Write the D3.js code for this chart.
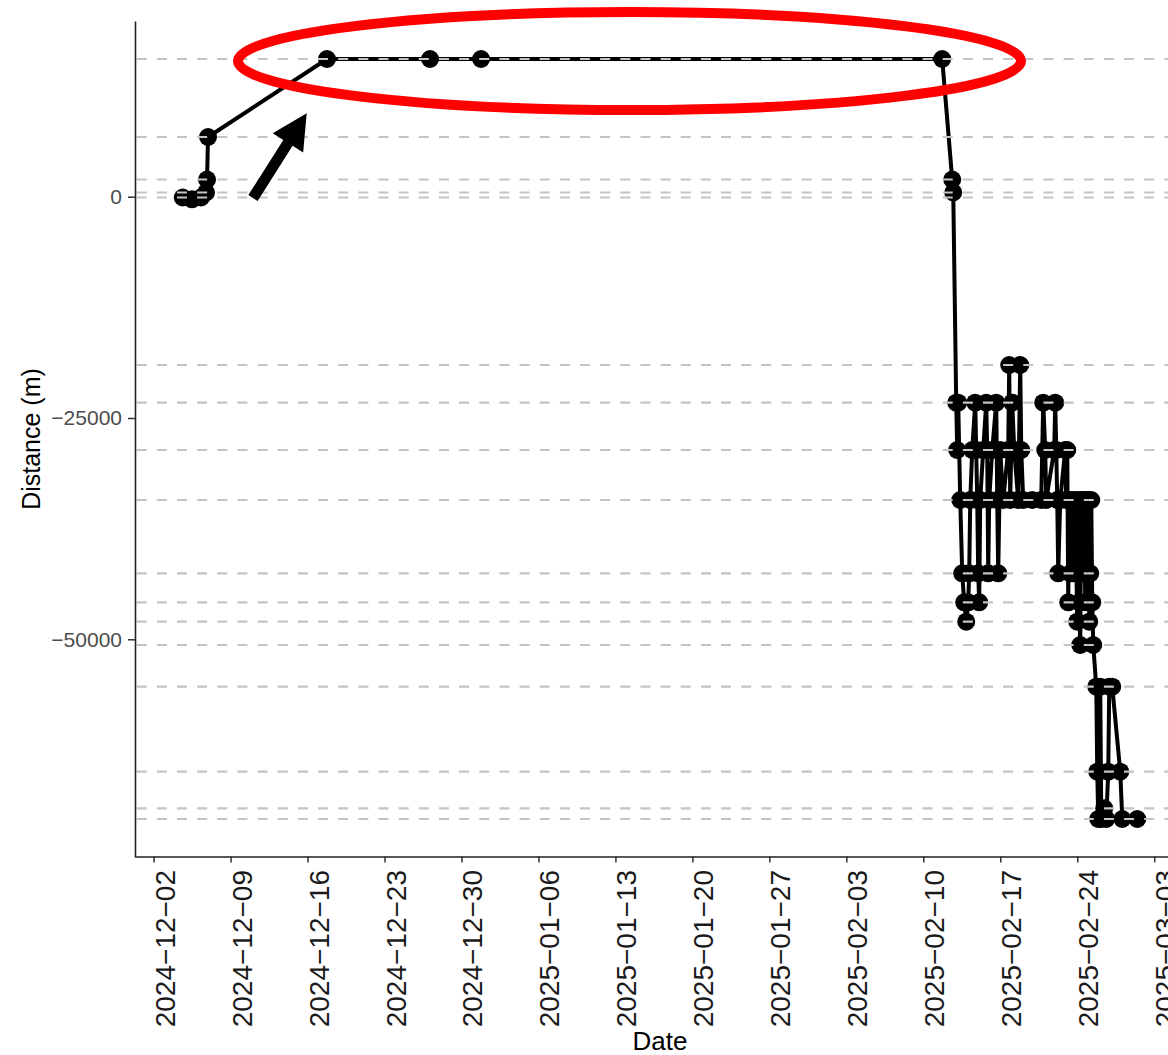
<!DOCTYPE html>
<html>
<head>
<meta charset="utf-8">
<script src="https://cdn.jsdelivr.net/npm/d3@7"></script>
<style>
  html, body { margin: 0; padding: 0; background: #ffffff; }
  svg { display: block; font-family: "Liberation Sans", Arial, Helvetica, sans-serif; }
</style>
</head>
<body>
<svg id="chart" width="1168" height="1055"></svg>
<script>
// ---------------- data ----------------
const timestamps = [
  "2024-12-04T15:36", "2024-12-05T11:45", "2024-12-06T07:30", "2024-12-06T18:30",
  "2024-12-06T20:40", "2024-12-06T22:50", "2024-12-17T18:30", "2024-12-27T03:20",
  "2024-12-31T18:45", "2025-02-11T17:15", "2025-02-12T15:05", "2025-02-12T17:20",
  "2025-02-12T23:50", "2025-02-13T02:00", "2025-02-13T04:10", "2025-02-13T08:35",
  "2025-02-13T12:55", "2025-02-13T17:15", "2025-02-13T21:40", "2025-02-14T02:00",
  "2025-02-14T04:10", "2025-02-14T06:25", "2025-02-14T10:45", "2025-02-14T17:20",
  "2025-02-14T19:30", "2025-02-14T21:40", "2025-02-14T23:50", "2025-02-15T02:00",
  "2025-02-15T04:10", "2025-02-15T10:45", "2025-02-15T17:20", "2025-02-15T19:30",
  "2025-02-15T21:40", "2025-02-15T23:50", "2025-02-16T06:25", "2025-02-16T15:10",
  "2025-02-16T17:20", "2025-02-16T19:30", "2025-02-16T23:50", "2025-02-17T06:25",
  "2025-02-17T17:20", "2025-02-17T19:30", "2025-02-17T21:40", "2025-02-18T02:05",
  "2025-02-18T06:25", "2025-02-18T15:10", "2025-02-18T19:30", "2025-02-18T21:45",
  "2025-02-19T02:05", "2025-02-19T21:45", "2025-02-20T17:20", "2025-02-20T21:45",
  "2025-02-21T02:05", "2025-02-21T04:15", "2025-02-21T21:45", "2025-02-21T23:55",
  "2025-02-22T02:10", "2025-02-22T04:20", "2025-02-22T06:30", "2025-02-22T10:50",
  "2025-02-22T21:45", "2025-02-22T23:55", "2025-02-23T02:10", "2025-02-23T04:20",
  "2025-02-23T06:30", "2025-02-23T08:40", "2025-02-23T13:05", "2025-02-23T15:15",
  "2025-02-23T19:35", "2025-02-23T23:58", "2025-02-24T02:10", "2025-02-24T04:20",
  "2025-02-24T06:30", "2025-02-24T08:45", "2025-02-24T10:55", "2025-02-24T15:15",
  "2025-02-24T17:25", "2025-02-24T19:40", "2025-02-24T21:50", "2025-02-25T00:00",
  "2025-02-25T02:10", "2025-02-25T04:20", "2025-02-25T06:35", "2025-02-25T08:45",
  "2025-02-25T10:55", "2025-02-25T17:30", "2025-02-25T19:40", "2025-02-25T21:50",
  "2025-02-26T00:00", "2025-02-26T02:10", "2025-02-26T04:25", "2025-02-26T10:55",
  "2025-02-26T15:20", "2025-02-26T19:40", "2025-02-26T21:50", "2025-02-27T04:25",
  "2025-02-27T21:50", "2025-02-28T02:15", "2025-03-01T11:00"
];

const distances = [
  -90, -300, -90, 474,
  1943, 6744, 15555, 15555,
  15555, 15555, 1943, 474,
  -23272, -28615, -23272, -34264,
  -42544, -45820, -48012, -45820,
  -42544, -34264, -28615, -23272,
  -28615, -34264, -42544, -45820,
  -34264, -28615, -23272, -28615,
  -42544, -34264, -28615, -23272,
  -34264, -42544, -28615, -34264,
  -28615, -19013, -34264, -23272,
  -28615, -34264, -19013, -28615,
  -34264, -34264, -34264, -23272,
  -28615, -34264, -28615, -23272,
  -28615, -34264, -42544, -34264,
  -28615, -34264, -28615, -45820,
  -34264, -42544, -34264, -42544,
  -34264, -48012, -34264, -45820,
  -50644, -34264, -42544, -34264,
  -45820, -34264, -42544, -34264,
  -48012, -42544, -34264, -45820,
  -50644, -55355, -64958, -70301,
  -64958, -55355, -70301, -69092,
  -70301, -64958, -55355, -55355,
  -64958, -70301, -70301
];

// dashed reference lines (distances of reference stations)
const referenceDistances = [
  15555, 6744, 1943, 474, -90,
  -19013, -23272, -28615, -34264, -42544, -45820, -48012,
  -50644, -55355, -64958, -69092, -70301
];

const yTickValues = [0, -25000, -50000];
const xTitle = "Date";
const yTitle = "Distance (m)";

// ---------------- layout ----------------
const W = 1168, H = 1055;
const panel = { left: 135, right: 1185, top: 21, bottom: 857 };

const parseTime = d3.utcParse("%Y-%m-%dT%H:%M");
const points = timestamps.map((t, i) => ({ date: parseTime(t), value: distances[i] }));

function expand(ext, f) {
  const s = ext[1] - ext[0];
  return [ext[0] - s * f, ext[1] + s * f];
}

const tExt = d3.extent(points, d => +d.date);
const tDom = expand(tExt, 0.05).map(v => new Date(v));
const vDom = expand(d3.extent(points, d => d.value), 0.05);

const x = d3.scaleUtc().domain(tDom).range([panel.left, panel.right]);
const y = d3.scaleLinear().domain(vDom).range([panel.bottom, panel.top]);

const svg = d3.select("#chart");
svg.append("rect").attr("width", W).attr("height", H).attr("fill", "#ffffff");

// ---------------- data marks ----------------
const line = d3.line().x(d => x(d.date)).y(d => y(d.value));
svg.append("path")
  .datum(points)
  .attr("d", line)
  .attr("fill", "none")
  .attr("stroke", "#000")
  .attr("stroke-width", 4)
  .attr("stroke-linejoin", "round")
  .attr("stroke-linecap", "round");

svg.append("g").selectAll("circle")
  .data(points)
  .join("circle")
  .attr("cx", d => x(d.date))
  .attr("cy", d => y(d.value))
  .attr("r", 9)
  .attr("fill", "#000");

// dashed horizontal reference lines (drawn over data, like geom_hline)
svg.append("g").selectAll("line")
  .data(referenceDistances)
  .join("line")
  .attr("x1", panel.left + 1.7)
  .attr("x2", panel.right)
  .attr("y1", d => y(d))
  .attr("y2", d => y(d))
  .attr("stroke", "#c4c4c4")
  .attr("stroke-width", 2.2)
  .attr("stroke-dasharray", "10 10.15");

// ---------------- axes ----------------
const axisColor = "#222";
const xAxisY = 856.5;

const xAxis = d3.axisBottom(x)
  .ticks(d3.utcMonday.every(1))
  .tickFormat(d => d3.utcFormat("%Y-%m-%d")(d).replace(/-/g, "\u2212"))
  .tickSizeInner(6)
  .tickSizeOuter(0);

const gx = svg.append("g").attr("transform", `translate(0,${xAxisY})`).call(xAxis);
gx.select(".domain").attr("stroke", axisColor).attr("stroke-width", 1.6);
gx.selectAll(".tick line").attr("stroke", "#333").attr("stroke-width", 1.5);
gx.selectAll(".tick text")
  .attr("transform", "rotate(-90)")
  .attr("x", -13.5)
  .attr("y", 20.5)
  .attr("dy", null)
  .attr("text-anchor", "end")
  .attr("fill", "#1a1a1a")
  .style("font-size", "28px")
  .style("font-family", "'Liberation Sans', Arial, sans-serif");

const yAxis = d3.axisLeft(y)
  .tickValues(yTickValues)
  .tickFormat(d3.format("d"))
  .tickSizeInner(7)
  .tickSizeOuter(0)
  .tickPadding(6);

const gy = svg.append("g").attr("transform", `translate(${panel.left},0)`).call(yAxis);
gy.select(".domain").attr("stroke", axisColor).attr("stroke-width", 1.6);
gy.selectAll(".tick line").attr("stroke", "#333").attr("stroke-width", 1.5);
gy.selectAll(".tick text")
  .attr("fill", "#4d4d4d")
  .style("font-size", "21px")
  .style("font-family", "'Liberation Sans', Arial, sans-serif");

// axis titles
svg.append("text")
  .attr("x", (panel.left + panel.right) / 2)
  .attr("y", 1050)
  .attr("text-anchor", "middle")
  .attr("fill", "#000")
  .style("font-size", "26px")
  .text(xTitle);

svg.append("text")
  .attr("transform", `translate(40,${(panel.top + panel.bottom) / 2}) rotate(-90)`)
  .attr("text-anchor", "middle")
  .attr("fill", "#000")
  .style("font-size", "25px")
  .text(yTitle);

// ---------------- annotations (overlay) ----------------
svg.append("ellipse")
  .attr("cx", 629.5)
  .attr("cy", 61)
  .attr("rx", 391.5)
  .attr("ry", 49)
  .attr("fill", "none")
  .attr("stroke", "#ff0000")
  .attr("stroke-width", 10);

(function drawArrow() {
  const tail = [253, 198], tip = [306.7, 113.3];
  const shaftHalf = 5.5, headHalf = 18, headLen = 35;
  const dx = tip[0] - tail[0], dy = tip[1] - tail[1];
  const L = Math.hypot(dx, dy);
  const u = [dx / L, dy / L], n = [-u[1], u[0]];
  const neck = [tip[0] - u[0] * headLen, tip[1] - u[1] * headLen];
  const p = (b, s) => [b[0] + n[0] * s, b[1] + n[1] * s];
  const pts = [p(tail, shaftHalf), p(neck, shaftHalf), p(neck, headHalf), tip,
               p(neck, -headHalf), p(neck, -shaftHalf), p(tail, -shaftHalf)];
  svg.append("path")
    .attr("d", "M" + pts.map(q => q.join(",")).join("L") + "Z")
    .attr("fill", "#000");
})();
</script>
</body>
</html>
